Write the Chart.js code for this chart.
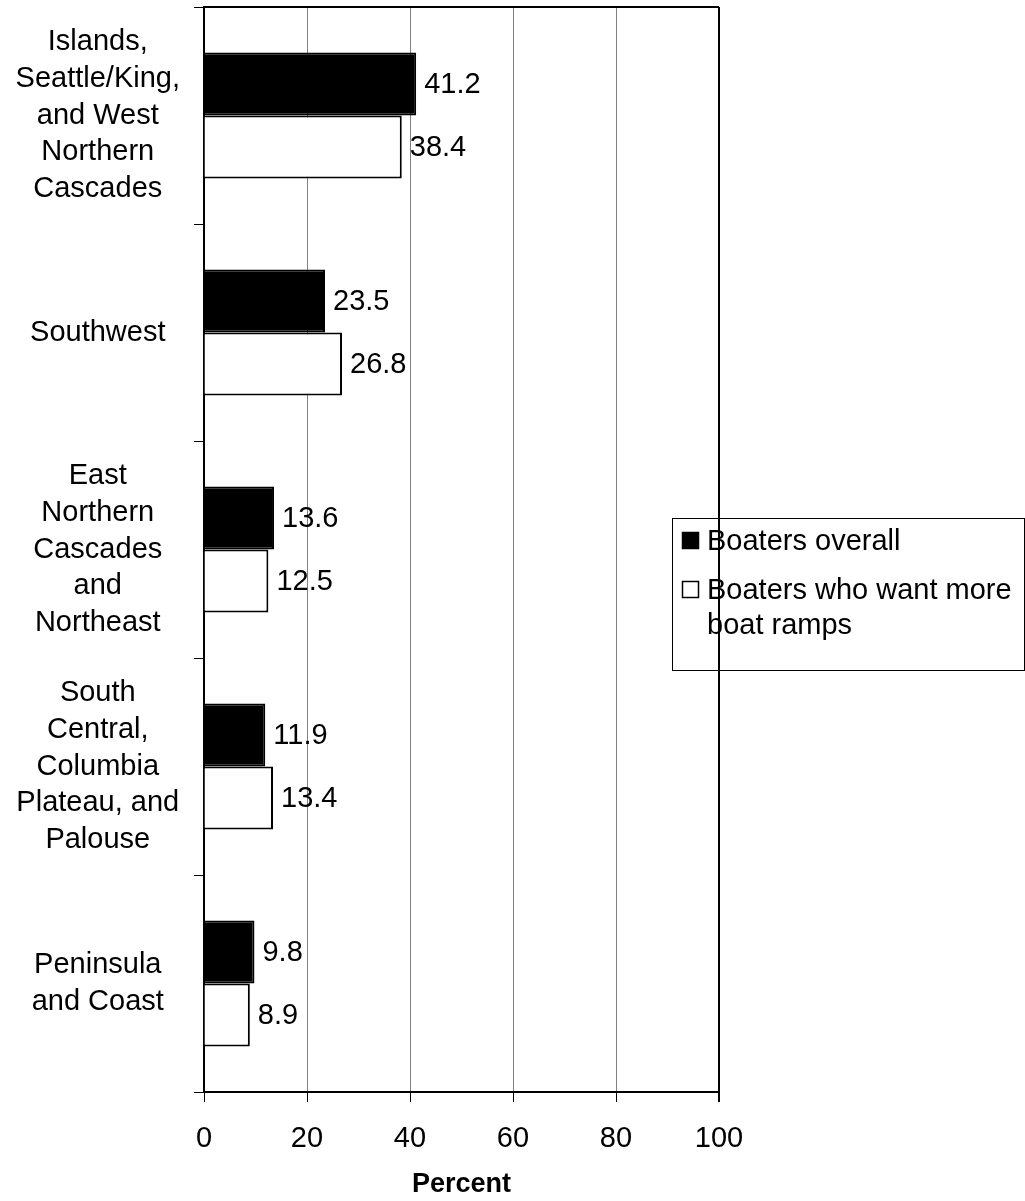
<!DOCTYPE html>
<html>
<head>
<meta charset="utf-8">
<script src="https://cdn.jsdelivr.net/npm/chart.js@4.4.0/dist/chart.umd.min.js"></script>
<style>
  html, body { margin: 0; padding: 0; background: #fff; }
  #wrap { width: 1025px; height: 1201px; position: relative; }
</style>
</head>
<body>
<div id="wrap"><canvas id="barChart"></canvas></div>
<script>
const regions = [
  ["Islands,", "Seattle/King,", "and West", "Northern", "Cascades"],
  "Southwest",
  ["East", "Northern", "Cascades", "and", "Northeast"],
  ["South", "Central,", "Columbia", "Plateau, and", "Palouse"],
  ["Peninsula", "and Coast"]
];
const boatersOverall = [41.2, 23.5, 13.6, 11.9, 9.8];
const wantMoreRamps = [38.4, 26.8, 12.5, 13.4, 8.9];
const seriesNames = ["Boaters overall", "Boaters who want more boat ramps"];
const percentTicks = [0, 20, 40, 60, 80, 100];

const FONT = "'Liberation Sans', Arial, sans-serif";

// value labels at the end of every bar
const valueLabels = {
  id: "valueLabels",
  afterDatasetsDraw(chart) {
    const ctx = chart.ctx;
    ctx.save();
    ctx.font = "29px " + FONT;
    ctx.fillStyle = "#000";
    ctx.textAlign = "left";
    ctx.textBaseline = "middle";
    chart.data.datasets.forEach((ds, i) => {
      chart.getDatasetMeta(i).data.forEach((bar, j) => {
        ctx.fillText(ds.data[j].toFixed(1), bar.x + 8, bar.y + 1);
      });
    });
    ctx.restore();
  }
};

// top border of the plot frame
const frameTop = {
  id: "frameTop",
  afterDraw(chart) {
    const { ctx, chartArea } = chart;
    ctx.save();
    ctx.strokeStyle = "#000";
    ctx.lineWidth = 2;
    ctx.beginPath();
    ctx.moveTo(chartArea.left, chartArea.top);
    ctx.lineTo(chartArea.right, chartArea.top);
    ctx.stroke();
    ctx.restore();
  }
};

// boxed legend on the right, with wrapped text
const boxLegend = {
  id: "boxLegend",
  afterDraw(chart) {
    const ctx = chart.ctx;
    ctx.save();
    ctx.font = "29px " + FONT;
    ctx.strokeStyle = "#000";
    ctx.lineWidth = 1;
    ctx.strokeRect(672.5, 518.5, 352, 152);
    const rows = [532, 581];
    chart.data.datasets.forEach((ds, i) => {
      const top = rows[i];
      ctx.fillStyle = ds.backgroundColor;
      ctx.fillRect(682, top, 17, 17);
      ctx.lineWidth = 1.5;
      ctx.strokeRect(682.5, top + 0.5, 16, 16);
      // wrap label
      const words = ds.label.split(" ");
      const lines = [];
      let cur = "";
      words.forEach(w => {
        const t = cur ? cur + " " + w : w;
        if (ctx.measureText(t).width > 310 && cur) { lines.push(cur); cur = w; }
        else cur = t;
      });
      lines.push(cur);
      ctx.fillStyle = "#000";
      ctx.textAlign = "left";
      ctx.textBaseline = "middle";
      lines.forEach((l, k) => ctx.fillText(l, 707, top + 10 + k * 35));
    });
    ctx.restore();
  }
};

new Chart(document.getElementById("barChart").getContext("2d"), {
  type: "bar",
  data: {
    labels: regions,
    datasets: [{
      label: seriesNames[0],
      data: boatersOverall,
      backgroundColor: "#000",
      borderColor: "#000",
      borderWidth: 2
    }, {
      label: seriesNames[1],
      data: wantMoreRamps,
      backgroundColor: "#fff",
      borderColor: "#000",
      borderWidth: 2
    }]
  },
  options: {
    indexAxis: "y",
    responsive: true,
    maintainAspectRatio: false,
    animation: false,
    datasets: { bar: { categoryPercentage: 0.58, barPercentage: 1.0 } },
    layout: { padding: { top: 7, right: 306, bottom: 0, left: 0 } },
    scales: {
      x: {
        min: 0,
        max: 100,
        afterBuildTicks: scale => { scale.ticks = percentTicks.map(v => ({ value: v })); },
        afterFit: scale => {
          scale.height = 109;
          scale.paddingLeft = 0;
          scale.paddingRight = 0;
        },
        border: { display: true, color: "#000", width: 2 },
        grid: {
          color: c => (c.tick && c.tick.value === 100 ? "#000" : "#808080"),
          lineWidth: c => (c.tick && c.tick.value === 100 ? 2 : 1),
          tickColor: "#000",
          tickLength: 10
        },
        ticks: { color: "#000", font: { family: FONT, size: 29 }, padding: 20, maxRotation: 0 },
        title: {
          display: true,
          text: "Percent",
          color: "#000",
          font: { family: FONT, size: 27, weight: "bold" },
          padding: { top: 0, bottom: 0 }
        }
      },
      y: {
        afterFit: scale => {
          scale.width = 204;
          scale.paddingTop = 0;
          scale.paddingBottom = 0;
        },
        border: { display: true, color: "#000", width: 2 },
        grid: { drawOnChartArea: false, offset: true, color: "#000", tickLength: 10 },
        ticks: {
          color: "#000",
          crossAlign: "center",
          padding: 14,
          font: { family: FONT, size: 29, lineHeight: 1.27 }
        }
      }
    },
    plugins: {
      legend: { display: false },
      tooltip: { enabled: false }
    }
  },
  plugins: [valueLabels, frameTop, boxLegend]
});
</script>
</body>
</html>
